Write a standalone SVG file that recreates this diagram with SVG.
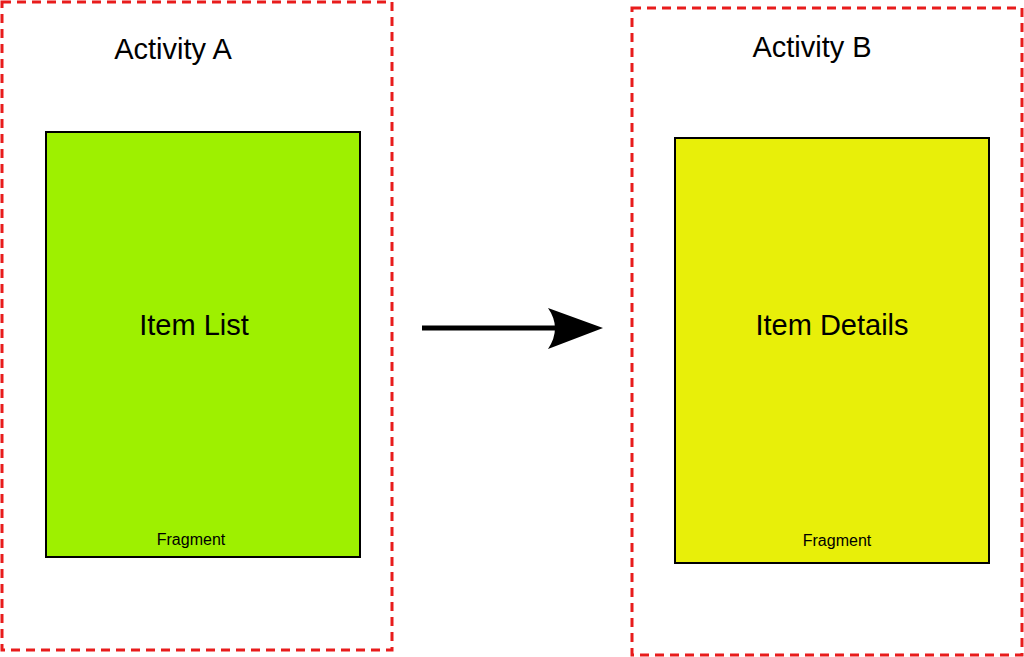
<svg xmlns="http://www.w3.org/2000/svg" width="1024" height="657" viewBox="0 0 1024 657">
<style>
.act{fill:none;stroke:#e81c1c;stroke-width:3;stroke-dasharray:9 6}
.frag{stroke:#000;stroke-width:2}
text{font-family:"Liberation Sans",Arial,sans-serif;fill:#000;text-anchor:middle}
.t{font-size:29px}.s{font-size:16px}
</style>
<rect width="1024" height="657" fill="#fff"/>
<g id="activityA"><rect class="act" x="2" y="2" width="390" height="648"/><text class="t" x="173" y="59">Activity A</text></g>
<g id="itemList"><rect class="frag" x="46" y="132" width="314" height="425" fill="#9ef000"/><text class="t" x="194" y="335">Item List</text><text class="s" x="191" y="545">Fragment</text></g>
<g id="activityB"><rect class="act" x="632" y="8" width="390" height="647"/><text class="t" x="812" y="57">Activity B</text></g>
<g id="itemDetails"><rect class="frag" x="675" y="138" width="314" height="425" fill="#e8ef09"/><text class="t" x="832" y="335">Item Details</text><text class="s" x="837" y="546">Fragment</text></g>
<g id="connectors"><line x1="422" y1="328" x2="560" y2="328" stroke="#000" stroke-width="5"/><path d="M548,308 L603,328 L548,349 Q562,328 548,308 Z" fill="#000"/></g>
</svg>
